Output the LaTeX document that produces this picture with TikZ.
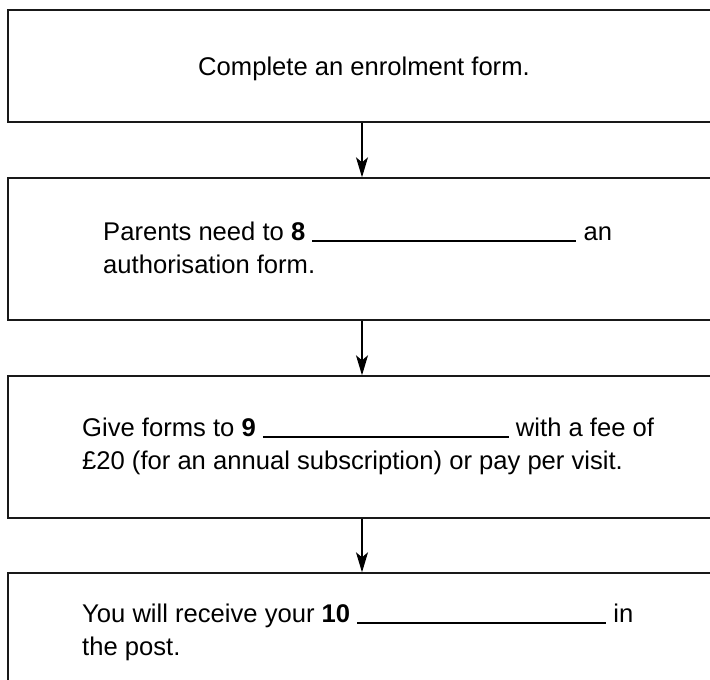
\documentclass[tikz,border=0pt]{standalone}
\usepackage{fontspec}
\setmainfont{Liberation Sans}
\usetikzlibrary{arrows.meta}
\newcommand{\blankline}[1]{\rule[-1.5pt]{#1pt}{1.3pt}}
\begin{document}
\begin{tikzpicture}[x=1pt,y=-1pt,
  stepbox/.style={draw=black!90, line width=1.4pt, rectangle, minimum width=708pt, inner sep=0pt},
  line/.style={anchor=base west, inner sep=0pt, font=\fontsize{25.6}{33}\selectfont},
  flow/.style={line width=1.2pt, -{Stealth[length=20pt, width=12pt, inset=5pt]}}]
\useasboundingbox (0,0) rectangle (710,680);
\clip (0,0) rectangle (710,680);
% boxes of the procedure
\node[stepbox, minimum height=112pt] (b1) at (362,66) {};
\node[stepbox, minimum height=142pt] (b2) at (362,249) {};
\node[stepbox, minimum height=142pt] (b3) at (362,447) {};
\node[stepbox, minimum height=150pt] (b4) at (362,648) {};
% texts
\node[line, anchor=base] (t1) at (364,75) {Complete an enrolment form.};
\node[line] (t2a) at (103,240) {Parents need to \textbf{8}\ \blankline{264}\ an};
\node[line] (t2b) at (103,273) {authorisation form.};
\node[line] (t3a) at (82,436) {Give forms to \textbf{9}\ \blankline{246}\ with a fee of};
\node[line] (t3b) at (82,469) {£20 (for an annual subscription) or pay per visit.};
\node[line] (t4a) at (82,622) {You will receive your \textbf{10}\ \blankline{249}\ in};
\node[line] (t4b) at (82,655) {the post.};
% arrows between steps
\draw[flow] (b1.south) -- (b2.north);
\draw[flow] (b2.south) -- (b3.north);
\draw[flow] (b3.south) -- (b4.north);
\end{tikzpicture}
\end{document}
